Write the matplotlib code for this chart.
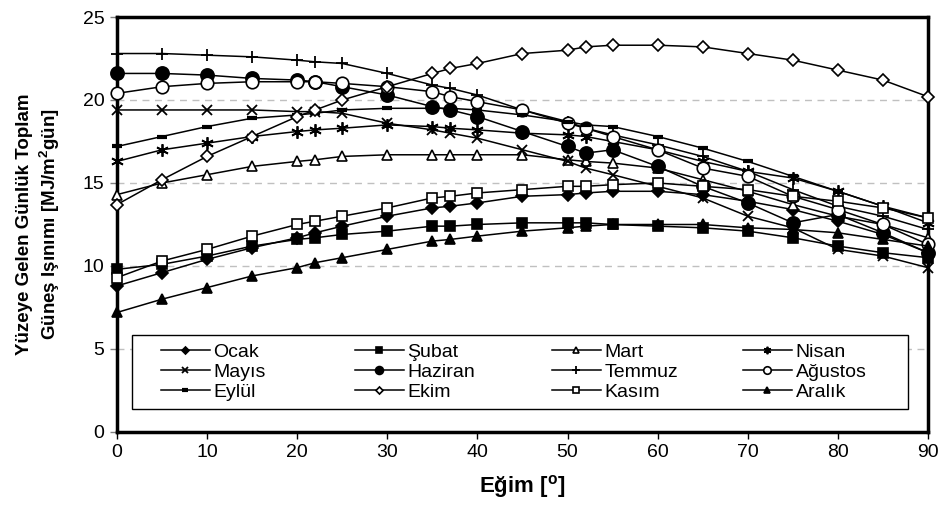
import matplotlib
matplotlib.use("Agg")
import matplotlib.pyplot as plt
from matplotlib.patches import Rectangle
from matplotlib.legend import Legend

plt.rcParams['font.family'] = ['Liberation Sans', 'DejaVu Sans']

# egim acilari (derece)
egim = [0, 5, 10, 15, 20, 22, 25, 30, 35, 37, 40, 45, 50, 52, 55, 60, 65, 70, 75, 80, 85, 90]

ocak = [8.8, 9.6, 10.4, 11.1, 11.7, 12.0, 12.4, 13.0, 13.5, 13.6, 13.8, 14.2, 14.3, 14.4, 14.5, 14.5, 14.3, 13.9, 13.4, 12.7, 11.9, 10.8]
subat = [9.8, 10.1, 10.6, 11.2, 11.6, 11.7, 11.9, 12.1, 12.4, 12.4, 12.5, 12.6, 12.6, 12.6, 12.5, 12.4, 12.3, 12.1, 11.7, 11.2, 10.8, 10.5]
mart = [14.3, 15.0, 15.5, 16.0, 16.3, 16.4, 16.6, 16.7, 16.7, 16.7, 16.7, 16.7, 16.4, 16.3, 16.2, 15.9, 15.2, 14.5, 13.7, 13.0, 12.5, 11.7]
nisan = [16.3, 17.0, 17.4, 17.8, 18.1, 18.2, 18.3, 18.5, 18.4, 18.3, 18.2, 18.0, 17.9, 17.8, 17.5, 17.0, 16.3, 15.7, 15.3, 14.5, 13.6, 12.6]
mayis = [19.4, 19.4, 19.4, 19.4, 19.3, 19.3, 19.2, 18.6, 18.2, 18.0, 17.7, 17.0, 16.3, 15.9, 15.5, 14.8, 14.1, 13.0, 12.3, 11.0, 10.6, 9.9]
haziran = [21.6, 21.6, 21.5, 21.3, 21.2, 21.1, 20.8, 20.3, 19.6, 19.4, 19.0, 18.1, 17.2, 16.8, 17.0, 16.0, 14.8, 13.8, 12.6, 13.1, 12.0, 10.8]
temmuz = [22.8, 22.8, 22.7, 22.6, 22.4, 22.3, 22.2, 21.6, 20.9, 20.7, 20.3, 19.4, 18.7, 18.3, 17.9, 17.3, 16.6, 15.7, 14.6, 13.6, 13.0, 12.2]
agustos = [20.4, 20.8, 21.0, 21.1, 21.1, 21.1, 21.0, 20.8, 20.5, 20.2, 19.9, 19.4, 18.6, 18.3, 17.8, 17.0, 15.9, 15.4, 14.2, 13.4, 12.5, 11.3]
eylul = [17.2, 17.8, 18.4, 18.9, 19.1, 19.2, 19.4, 19.5, 19.5, 19.5, 19.4, 19.1, 18.7, 18.5, 18.4, 17.8, 17.1, 16.3, 15.4, 14.5, 13.6, 12.9]
ekim = [13.7, 15.2, 16.6, 17.8, 19.0, 19.4, 20.0, 20.8, 21.6, 21.9, 22.2, 22.8, 23.0, 23.2, 23.3, 23.3, 23.2, 22.8, 22.4, 21.8, 21.2, 20.2]
kasim = [9.3, 10.3, 11.0, 11.8, 12.5, 12.7, 13.0, 13.5, 14.1, 14.2, 14.4, 14.6, 14.8, 14.8, 14.9, 15.0, 14.8, 14.6, 14.2, 13.9, 13.5, 12.9]
aralik = [7.2, 8.0, 8.7, 9.4, 9.9, 10.2, 10.5, 11.0, 11.5, 11.6, 11.8, 12.1, 12.3, 12.4, 12.5, 12.5, 12.5, 12.3, 12.2, 12.0, 11.6, 11.2]

aylar = ['Ocak', 'Şubat', 'Mart', 'Nisan', 'Mayıs', 'Haziran',
         'Temmuz', 'Ağustos', 'Eylül', 'Ekim', 'Kasım', 'Aralık']
seriler = [ocak, subat, mart, nisan, mayis, haziran,
           temmuz, agustos, eylul, ekim, kasim, aralik]

# marker, boyut, dolu mu
stiller = [
  ('D', 6, True),
  ('s', 6.5, True),
  ('^', 7.5, False),
  ((6, 2, 0), 9, False),
  ('x', 7.5, False),
  ('o', 9.5, True),
  ('+', 9, False),
  ('o', 9, False),
  ('_', 7, False),
  ('D', 6, False),
  ('s', 7, False),
  ('^', 7.5, True),
]

fig = plt.figure(figsize=(9.38, 5.09), dpi=100)
ax = fig.add_axes([0.1247, 0.1513, 0.8646, 0.8153])

lines = []
for ad, y, (m, ms, dolu) in zip(aylar, seriler, stiller):
  face = 'black' if dolu else 'white'
  mew = 1.2
  if m == '_':
    mew = 3
  if m in ('x', '+') or isinstance(m, tuple):
    mew = 1.3
  ln, = ax.plot(egim, y, color='black', lw=1.1, marker=m, markersize=ms,
                markerfacecolor=face, markeredgecolor='black', markeredgewidth=mew,
                label=ad, clip_on=False, zorder=3)
  lines.append(ln)

ax.set_xlim(0, 90)
ax.set_ylim(0, 25)
ax.set_xticks(range(0, 91, 10))
ax.set_yticks(range(0, 26, 5))

for yv in [5, 10, 15, 20]:
  ax.axhline(yv, color='#c0c0c0', lw=1.0, ls=(0, (5, 4)), zorder=1)

for s in ax.spines.values():
  s.set_linewidth(2.5)
  s.set_color('black')

ax.tick_params(axis='both', direction='out', length=5, width=1, labelsize=14, pad=4, colors='black')
ax.tick_params(axis='y', colors='#808080', labelcolor='black')

ax.set_xlabel('Eğim [$\\mathregular{^o}$]', fontsize=16, fontweight='bold', labelpad=8)
ax.set_ylabel('Yüzeye Gelen Günlük Toplam\nGüneş Işınımı [MJ/m$\\mathregular{^2}$gün]',
              fontsize=13.5, fontweight='bold', linespacing=1.25)
ax.yaxis.set_label_coords(-0.068, 0.5)

# lejant cercevesi
ax.add_patch(Rectangle((0.0185, 0.0554), 0.9568, 0.1783, transform=ax.transAxes,
                       facecolor='white', edgecolor='black', lw=1.0, zorder=4))

# her sutun ayri lejant: Excel gibi esit aralikli sutunlar
sutun_x = [0.0543, 0.2935, 0.5364, 0.7719]
for k, x0 in enumerate(sutun_x):
  idx = [k, k + 4, k + 8]
  leg = Legend(ax, [lines[i] for i in idx], [aylar[i] for i in idx],
               loc='upper left', bbox_to_anchor=(x0, 0.213),
               fontsize=14, markerscale=0.6, handlelength=2.5, handletextpad=0.2,
               labelspacing=0.12, borderpad=0, borderaxespad=0, frameon=False)
  leg.set_zorder(5)
  ax.add_artist(leg)

fig.savefig('out.png', dpi=100)
